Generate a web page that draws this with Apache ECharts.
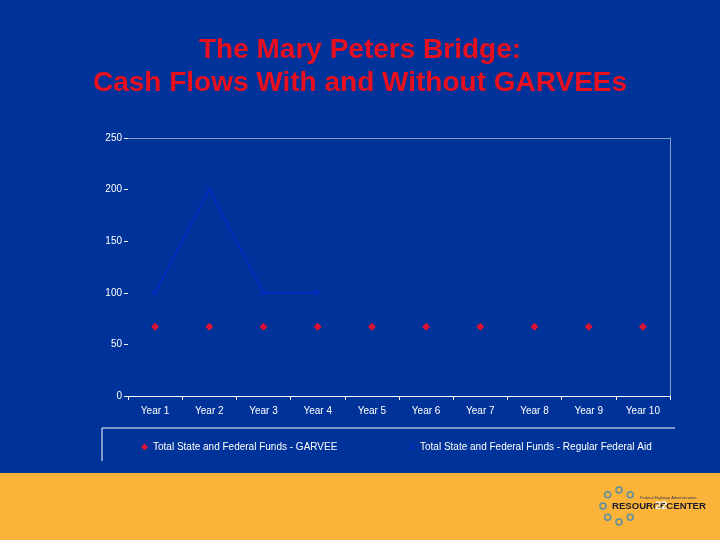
<!DOCTYPE html>
<html><head><meta charset="utf-8">
<script src="https://cdn.jsdelivr.net/npm/echarts@6/dist/echarts.min.js"></script>
<style>html,body{margin:0;padding:0;background:#003399;}#c{width:720px;height:540px;}</style>
</head><body><div id="c"></div>
<script>
const categories = ['Year 1','Year 2','Year 3','Year 4','Year 5','Year 6','Year 7','Year 8','Year 9','Year 10'];
const garvee = [67,67,67,67,67,67,67,67,67,67];
const regularAid = [100,200,100,100,null,null,null,null,null,null];
const yTicks = [0,50,100,150,200,250];
const seriesNames = ['Total State and Federal Funds - GARVEE','Total State and Federal Funds - Regular Federal Aid'];

const xSym = 'path://M0,1L1,0L5,4L9,0L10,1L6,5L10,9L9,10L5,6L1,10L0,9L4,5Z';
const chart = echarts.init(document.getElementById('c'));
const font = 'Liberation Sans, Arial, sans-serif';
chart.setOption({
  backgroundColor: '#003399',
  animation: false,
  title: {
    text: 'The Mary Peters Bridge:\nCash Flows With and Without GARVEEs',
    left: 'center', top: 29,
    textStyle: {color: '#e8101e', fontSize: 28, fontWeight: 'bold', fontFamily: font, lineHeight: 33}
  },
  grid: {left: 128, right: 50, top: 138, bottom: 144},
  xAxis: [{
    type: 'category', data: categories, boundaryGap: true,
    axisLine: {lineStyle: {color: '#ffffff', width: 1}},
    axisTick: {show: true, length: 4, lineStyle: {color: '#ffffff'}},
    axisLabel: {color: '#ffffff', fontSize: 10, fontFamily: font, margin: 10}
  },{
    type: 'category', data: categories, position: 'top',
    axisLine: {show: true, onZero: false, lineStyle: {color: '#8c9cc8'}}, axisTick: {show: false}, axisLabel: {show: false}
  }],
  yAxis: [{
    type: 'value', min: yTicks[0], max: yTicks[yTicks.length-1], interval: 50,
    axisLine: {show: false},
    axisTick: {show: true, length: 4, lineStyle: {color: '#ffffff'}},
    splitLine: {show: false},
    axisLabel: {color: '#ffffff', fontSize: 10, fontFamily: font, margin: 6}
  },{
    type: 'value', min: 0, max: 250, position: 'right',
    axisLine: {show: true, onZero: false, lineStyle: {color: '#8c9cc8'}}, axisTick: {show: false}, axisLabel: {show: false}, splitLine: {show: false}
  }],
  legend: [{
    data: [{name: seriesNames[0], icon: 'diamond'}],
    left: 136, top: 437, itemWidth: 7, itemHeight: 7,
    textStyle: {color: '#ffffff', fontSize: 10, fontFamily: font}
  },{
    data: [{name: seriesNames[1], icon: xSym}],
    left: 403, top: 437, itemWidth: 7, itemHeight: 7,
    textStyle: {color: '#ffffff', fontSize: 10, fontFamily: font}
  }],
  series: [{
    name: seriesNames[0], type: 'line', data: garvee,
    lineStyle: {width: 0, opacity: 0},
    symbol: 'diamond', symbolSize: 8, showSymbol: true,
    itemStyle: {color: '#dd1133'}
  },{
    name: seriesNames[1], type: 'line', data: regularAid,
    lineStyle: {width: 1.5, color: '#0a2acc'},
    symbol: xSym, symbolSize: 6,
    itemStyle: {color: '#0a2acc'}
  }],
  graphic: [
    {type: 'polyline', shape: {points: [[102,461],[102,428],[675,428]]}, style: {stroke: '#ffffff', lineWidth: 1, fill: null}, silent: true},
    {type: 'rect', shape: {x: 0, y: 473, width: 720, height: 67}, style: {fill: '#fbb33a'}, silent: true},
    ...[1,2,3,4,5,6,7].map(i => {
      const a = i * Math.PI / 4;
      return {type: 'circle', shape: {cx: 619 + 16*Math.cos(a), cy: 506 + 16*Math.sin(a), r: 3},
        style: {fill: null, stroke: '#5a8fa8', lineWidth: 1.5}, silent: true};
    }),
    {type: 'text', left: 612, top: 501, style: {text: 'RESOURCECENTER', fill: '#1b1b2e', font: 'bold 9.6px Liberation Sans, Arial'}, silent: true},
    {type: 'text', left: 640, top: 496, style: {text: 'Federal Highway Administration', fill: '#3a3a50', font: '4px Liberation Sans, Arial'}, silent: true},
    {type: 'text', left: 655, top: 500, style: {text: '22', fill: '#f3f0e0', font: 'bold 11px Liberation Sans, Arial'}, silent: true}
  ]
});
</script></body></html>
